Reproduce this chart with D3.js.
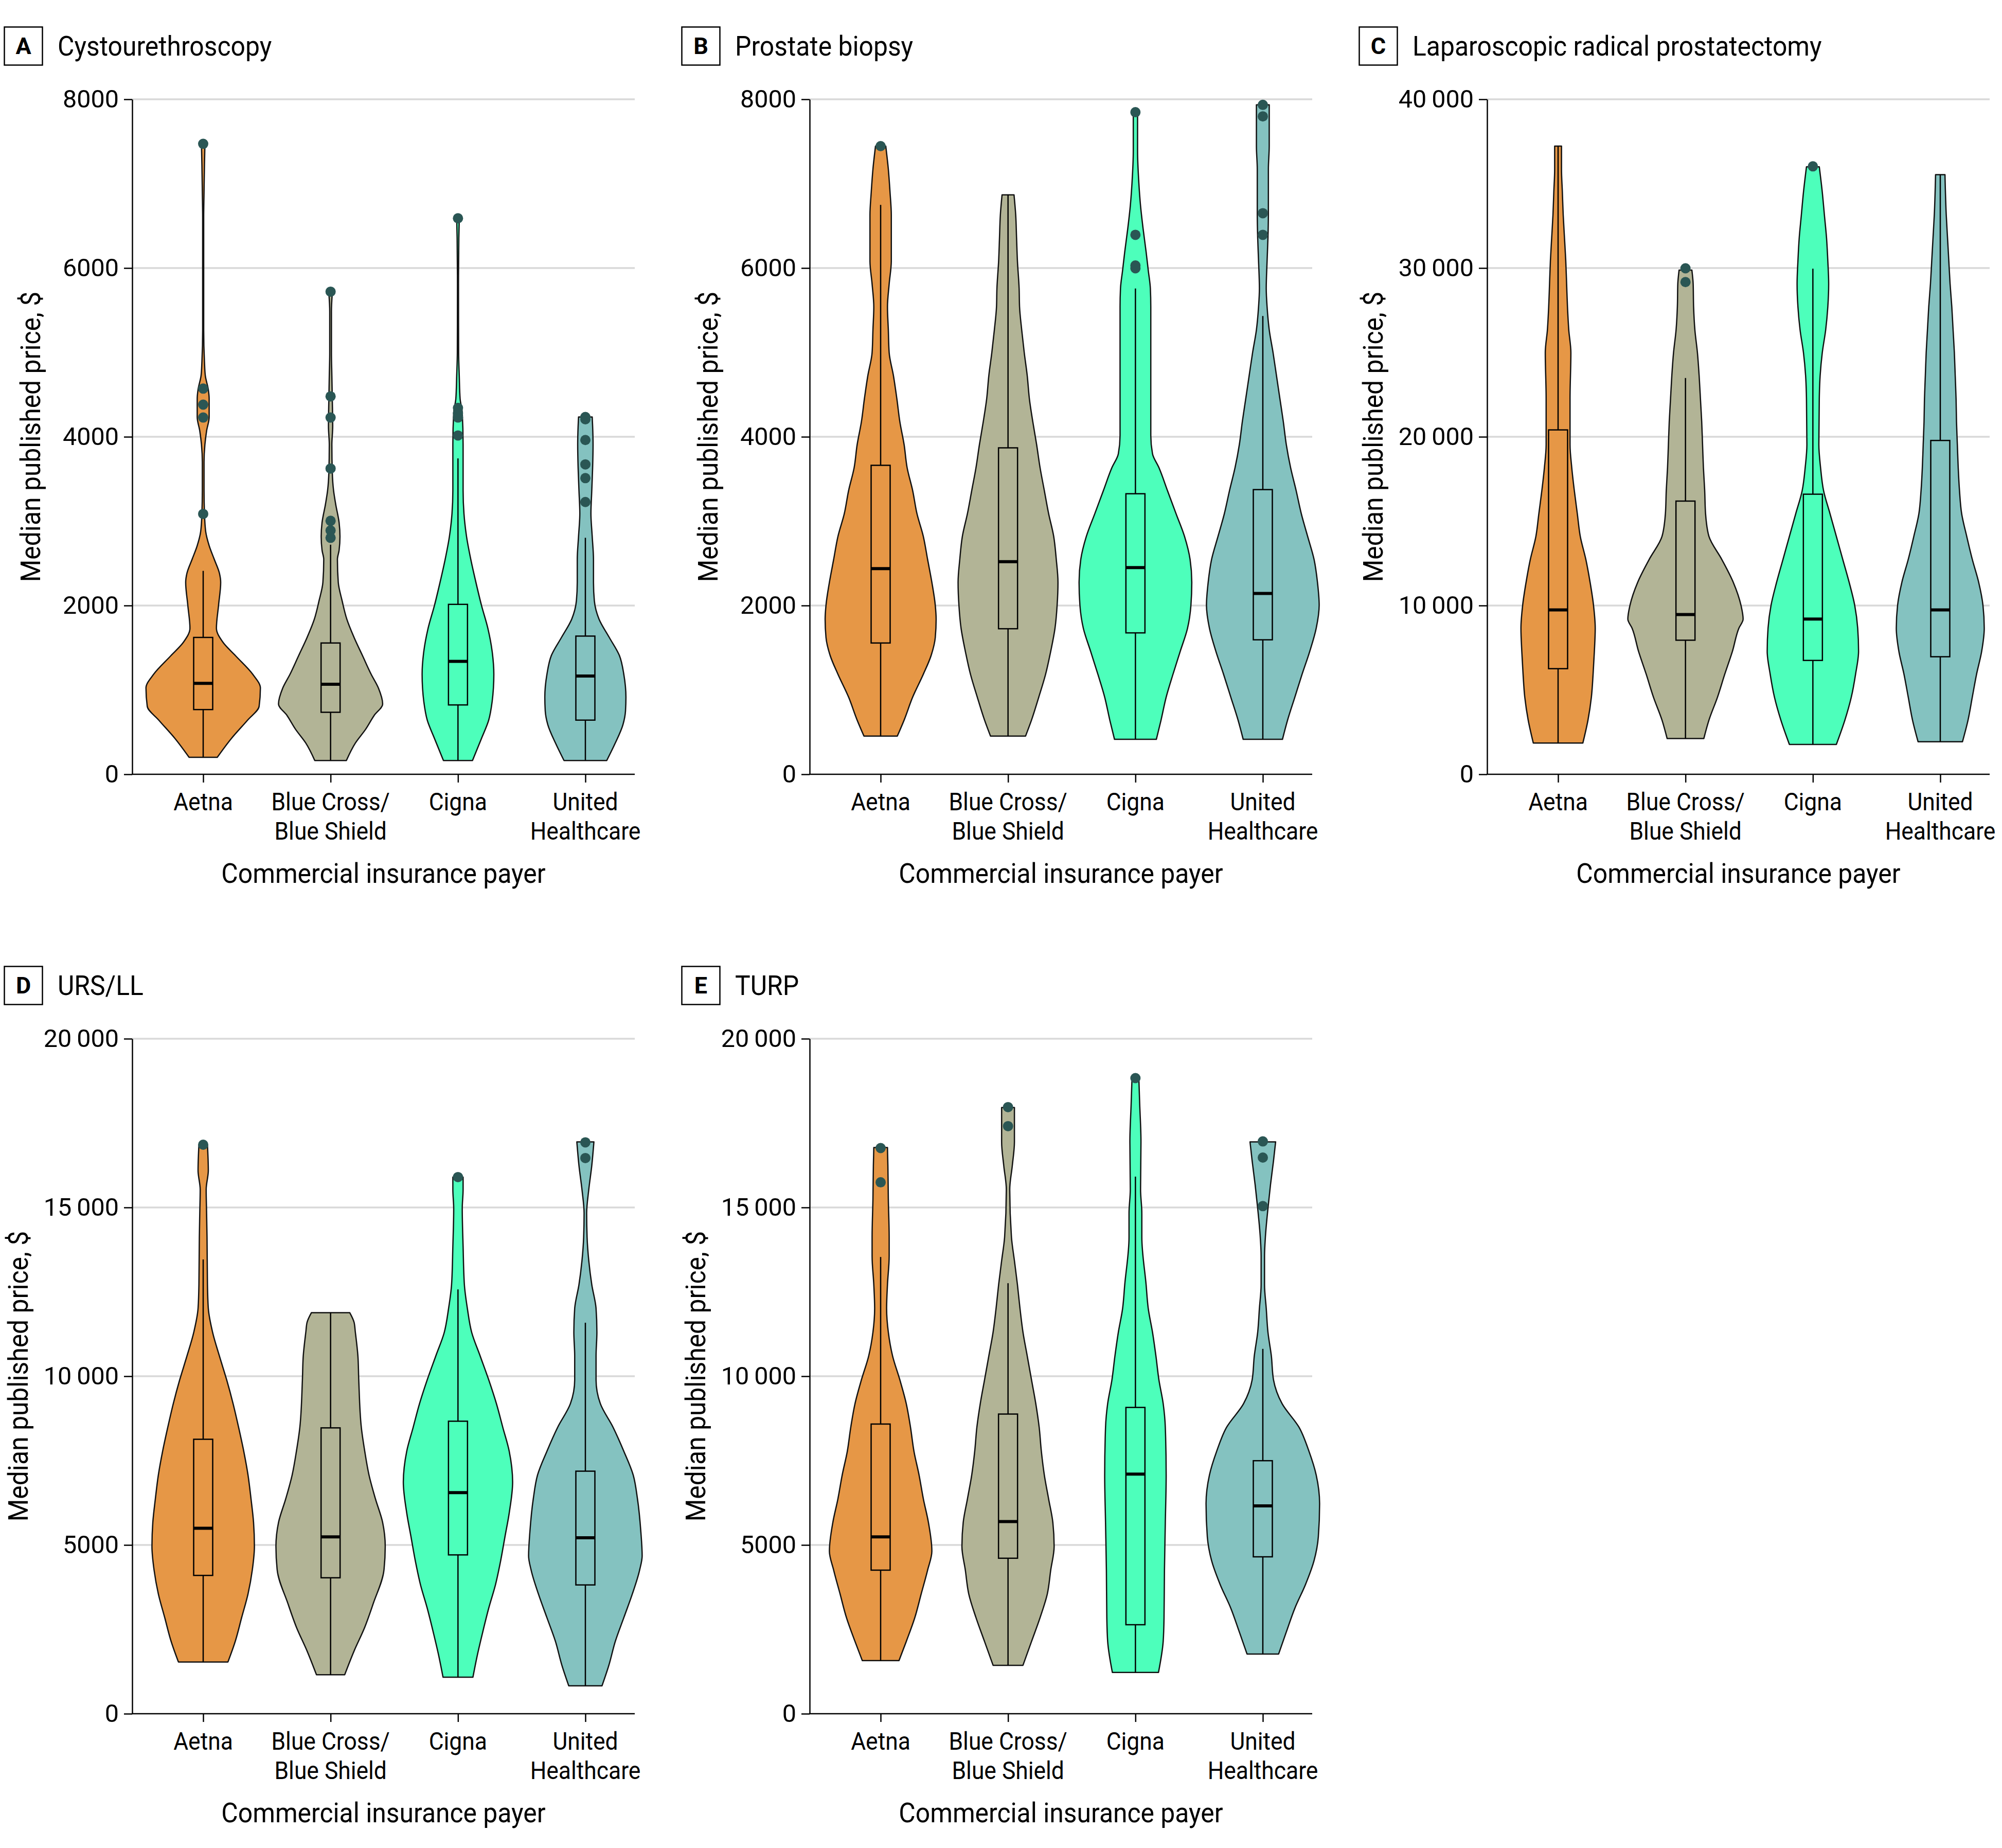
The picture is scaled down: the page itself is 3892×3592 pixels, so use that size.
<!DOCTYPE html>
<html><head><meta charset="utf-8">
<script src="https://cdn.jsdelivr.net/npm/d3@7/dist/d3.min.js"></script>
<style>body{margin:0;background:#fff}</style>
</head><body>
<svg id="chart" width="3892" height="3592"></svg>
<script>
// ---------------- DATA ----------------
const categories = ["Aetna", "Blue Cross/\nBlue Shield", "Cigna", "United\nHealthcare"];
const colors = ["#E69746", "#B2B496", "#4DFFBB", "#84C2C0"];
const outlierColor = "#2A5654";
const panelLetters = ["A", "B", "C", "D", "E"];
const panelTitles = ["Cystourethroscopy", "Prostate biopsy", "Laparoscopic radical prostatectomy", "URS/LL", "TURP"];
const yMax = [8000, 8000, 40000, 20000, 20000];
const yTicks = [
  [0, 2000, 4000, 6000, 8000],
  [0, 2000, 4000, 6000, 8000],
  [0, 10000, 20000, 30000, 40000],
  [0, 5000, 10000, 15000, 20000],
  [0, 5000, 10000, 15000, 20000]
];
const yTickLabels = [
  ["0", "2000", "4000", "6000", "8000"],
  ["0", "2000", "4000", "6000", "8000"],
  ["0", "10\u2009000", "20\u2009000", "30\u2009000", "40\u2009000"],
  ["0", "5000", "10\u2009000", "15\u2009000", "20\u2009000"],
  ["0", "5000", "10\u2009000", "15\u2009000", "20\u2009000"]
];
const yTitle = "Median published price, $";
const xTitle = "Commercial insurance payer";

// violin density profiles: [price, relative half-width]
const violinA_aetna = [[201,.33],[424,.66],[642,1.04],[805,1.31],[1023,1.34],[1186,1.16],[1404,.76],[1567,.46],[1730,.31],[2003,.36],[2275,.41],[2384,.38],[2547,.26],[2710,.14],[2873,.06],[3091,.03],[3363,.02],[3700,.02],[3907,.04],[4070,.08],[4234,.14],[4451,.14],[4560,.12],[4724,.05],[4887,.03],[5268,.012],[6600,.012],[6900,.02],[7227,.03],[7445,.04]];
const violinA_blue = [[163,.37],[370,.58],[533,.82],[697,1.02],[833,1.22],[1023,1.12],[1186,.95],[1404,.75],[1622,.55],[1839,.38],[2057,.27],[2275,.18],[2547,.16],[2656,.20],[2819,.22],[2982,.20],[3200,.12],[3363,.07],[3581,.04],[3907,.03],[4125,.05],[4451,.04],[4724,.03],[4996,.02],[5485,.02],[5703,.04]];
const violinA_cigna = [[163,.34],[424,.55],[642,.72],[860,.80],[1023,.83],[1186,.84],[1458,.80],[1730,.70],[2003,.55],[2275,.42],[2547,.30],[2819,.20],[3091,.14],[3363,.12],[3581,.12],[3907,.12],[4288,.10],[4451,.05],[4724,.03],[5000,.015],[5812,.012],[6356,.02],[6574,.03]];
const violinA_united = [[163,.50],[370,.70],[588,.88],[751,.94],[914,.95],[1186,.90],[1404,.80],[1622,.56],[1839,.32],[2057,.21],[2275,.19],[2547,.19],[2819,.16],[3091,.13],[3363,.15],[3635,.17],[3907,.18],[4125,.17],[4234,.16]];

const violinB_aetna = [[452,.39],[642,.55],[914,.75],[1186,1.00],[1404,1.18],[1622,1.28],[1839,1.30],[2003,1.28],[2275,1.20],[2547,1.10],[2819,1.00],[3091,.85],[3363,.75],[3635,.62],[3907,.55],[4179,.45],[4451,.38],[4724,.30],[4996,.20],[5268,.18],[5540,.16],[5812,.20],[6084,.25],[6356,.25],[6628,.25],[6900,.22],[7173,.18],[7445,.12]];
const violinB_blue = [[452,.41],[642,.55],[914,.72],[1186,.88],[1458,1.00],[1730,1.10],[2003,1.15],[2275,1.17],[2547,1.13],[2819,1.07],[3091,.95],[3363,.85],[3635,.75],[3907,.67],[4179,.58],[4451,.50],[4724,.45],[4996,.38],[5268,.32],[5540,.27],[5758,.26],[6084,.22],[6356,.20],[6628,.18],[6868,.14]];
const violinB_cigna = [[414,.49],[642,.60],[914,.72],[1186,.88],[1458,1.05],[1730,1.22],[2003,1.30],[2275,1.32],[2547,1.28],[2819,1.15],[3091,.95],[3363,.75],[3635,.55],[3799,.40],[4016,.36],[4451,.36],[4996,.36],[5540,.36],[5758,.35],[5975,.30],[6193,.25],[6465,.18],[6737,.12],[7009,.08],[7390,.05],[7847,.05]];
const violinB_united = [[414,.46],[642,.58],[914,.75],[1186,.92],[1458,1.10],[1730,1.25],[2003,1.32],[2275,1.28],[2547,1.20],[2819,1.05],[3091,.90],[3363,.78],[3635,.65],[3907,.55],[4179,.48],[4451,.40],[4724,.32],[4996,.24],[5268,.15],[5540,.10],[5758,.08],[6084,.10],[6356,.12],[6628,.13],[7173,.13],[7445,.15],[7934,.15]];

const violinC_aetna = [[1850,.58],[3211,.70],[4571,.78],[5932,.82],[7292,.85],[8653,.87],[10014,.83],[11374,.75],[12735,.65],[14095,.52],[15456,.45],[16816,.38],[18177,.32],[19537,.28],[22258,.28],[24980,.30],[26340,.25],[27701,.22],[29061,.20],[30422,.18],[31783,.15],[33143,.12],[34504,.10],[35864,.08],[37225,.08]];
const violinC_blue = [[2122,.43],[3211,.55],[4571,.75],[5932,.92],[7292,1.10],[8653,1.25],[9197,1.35],[10014,1.30],[11374,1.12],[12735,.85],[14095,.55],[15456,.47],[16816,.45],[18177,.42],[19537,.40],[20898,.38],[22258,.35],[23619,.32],[24980,.28],[26340,.22],[27701,.19],[29061,.18],[29877,.15]];
const violinC_cigna = [[1769,.55],[3211,.75],[4571,.90],[5932,1.00],[7292,1.07],[8653,1.05],[10014,.98],[11374,.85],[12735,.70],[14095,.55],[15456,.40],[16816,.25],[18177,.18],[19537,.14],[22258,.15],[23619,.17],[24980,.22],[26340,.30],[27701,.35],[29061,.37],[30422,.35],[31783,.32],[33143,.27],[34504,.22],[36000,.15]];
const violinC_united = [[1932,.52],[3211,.65],[4571,.75],[5932,.85],[7292,.97],[8653,1.03],[10014,1.00],[11374,.90],[12735,.75],[14095,.62],[15456,.50],[16816,.45],[18177,.42],[19537,.40],[20898,.38],[22258,.37],[23619,.35],[24980,.33],[26340,.30],[27701,.27],[29061,.23],[30422,.20],[31783,.17],[33143,.14],[35537,.11]];

const violinD_aetna = [[1533,.58],[2139,.75],[2844,.90],[3549,1.05],[4254,1.15],[4959,1.20],[5664,1.18],[6369,1.12],[7074,1.05],[7779,.95],[8484,.83],[9189,.70],[9894,.55],[10599,.38],[11304,.22],[12009,.12],[12714,.10],[14124,.09],[14829,.08],[15534,.07],[16098,.12],[16860,.10]];
const violinD_blue = [[1153,.33],[1857,.55],[2562,.80],[3267,1.00],[4254,1.25],[4959,1.28],[5664,1.22],[6369,1.05],[7074,.90],[7779,.80],[8484,.72],[9894,.66],[10599,.64],[11304,.58],[11600,.55],[11882,.45]];
const violinD_cigna = [[1082,.35],[1716,.45],[2421,.58],[3126,.72],[3831,.88],[4536,1.00],[5241,1.10],[5946,1.20],[6863,1.28],[7779,1.20],[8484,1.05],[9189,.90],[9894,.72],[10599,.52],[11304,.32],[12009,.22],[12714,.15],[13842,.12],[14970,.10],[15534,.12],[15901,.12]];
const violinD_united = [[828,.39],[1434,.55],[2139,.70],[2844,.90],[3549,1.10],[4254,1.27],[4677,1.33],[5382,1.30],[6369,1.22],[7074,1.12],[7779,.90],[8484,.65],[9189,.35],[9894,.25],[10599,.25],[11304,.27],[12009,.25],[12714,.15],[13419,.08],[14124,.04],[14829,.03],[15534,.08],[16239,.15],[16944,.20]];

const violinE_aetna = [[1575,.43],[2139,.60],[2844,.80],[3549,.95],[4254,1.10],[4818,1.20],[5664,1.12],[6369,1.00],[7074,.90],[7779,.78],[8484,.70],[9189,.60],[9894,.45],[10599,.28],[11304,.18],[12009,.14],[12714,.16],[13560,.20],[14124,.20],[15252,.18],[16239,.17],[16775,.16]];
const violinE_blue = [[1434,.35],[2139,.55],[2844,.75],[3549,.92],[4254,1.00],[4959,1.08],[5664,1.05],[6369,.95],[7074,.85],[7779,.78],[8484,.73],[9189,.65],[9894,.55],[10599,.45],[11304,.35],[12009,.28],[12714,.22],[13419,.15],[14124,.08],[15534,.04],[16239,.10],[16944,.15],[17960,.15]];
const violinE_cigna = [[1223,.54],[2139,.65],[2844,.67],[4254,.68],[5664,.70],[7074,.72],[8484,.70],[9189,.65],[9894,.55],[10599,.48],[11304,.40],[12009,.30],[12714,.25],[14124,.15],[14829,.15],[15534,.12],[16944,.13],[18072,.10],[18834,.08]];
const violinE_united = [[1770,.37],[2421,.55],[3126,.75],[3831,1.00],[4536,1.20],[5241,1.30],[6228,1.33],[7074,1.25],[7779,1.08],[8484,.85],[9189,.45],[9894,.25],[10599,.20],[11304,.12],[12009,.08],[12714,.04],[13560,.04],[14124,.06],[14970,.12],[15675,.18],[16380,.25],[16944,.30]];

// box plot stats per payer: [lower whisker, Q1, median, Q3, upper whisker]
const boxA = [[201,767,1078,1622,2411],[163,735,1067,1556,2721],[163,822,1339,2014,3744],[163,642,1165,1638,2803]];
const boxB = [[452,1556,2438,3662,6748],[452,1725,2520,3869,6868],[414,1676,2449,3325,5758],[414,1594,2144,3374,5431]];
const boxC = [[1850,6258,9741,20408,37225],[2122,7946,9469,16190,23483],[1769,6748,9197,16598,29959],[1932,6966,9741,19782,35537]];
const boxD = [[1533,4098,5495,8132,13460],[1153,4028,5241,8470,11882],[1082,4706,6551,8667,12573],[828,3816,5212,7187,11587]];
const boxE = [[1575,4254,5241,8583,13532],[1434,4607,5693,8879,12756],[1223,2637,7100,9075,15914],[1770,4649,6157,7497,10811]];

// outliers per payer
const outA = [[7472,4571,4381,4228,3086],[5720,4479,4228,3624,3004,2890,2803],[6590,4343,4280,4228,4016],[4234,4207,3962,3673,3510,3227]];
const outB = [[7445],[],[7847,6394,6030,5997],[7934,7798,6650,6394]];
const outC = [[],[29986,29170],[36026],[]];
const outD = [[16860],[],[15901],[16930,16465]];
const outE = [[16761,15746],[17974,17410],[18834],[16958,16479,15041]];

const violins = [
  [violinA_aetna, violinA_blue, violinA_cigna, violinA_united],
  [violinB_aetna, violinB_blue, violinB_cigna, violinB_united],
  [violinC_aetna, violinC_blue, violinC_cigna, violinC_united],
  [violinD_aetna, violinD_blue, violinD_cigna, violinD_united],
  [violinE_aetna, violinE_blue, violinE_cigna, violinE_united]
];
const boxes = [boxA, boxB, boxC, boxD, boxE];
const outliers = [outA, outB, outC, outD, outE];

// ---------------- LAYOUT ----------------
const panelOrigin = [[0, 0], [1317, 0], [2634, 0], [0, 1826], [1317, 1826]];
const plot = {left: 257, right: 1234, top: 193, bottom: 1505};
const pointRange = [395, 1138];
const widthScale = d3.scaleLinear().domain([0, 1]).range([0, 83]);
const boxHalf = 18.5;
const FONT = "Roboto, 'Liberation Sans', Arial, sans-serif";

const svg = d3.select("#chart");
svg.append("rect").attr("width", 3892).attr("height", 3592).attr("fill", "#fff");

function condenseBy(k) {
  return sel => sel.each(function () {
    const L = this.getComputedTextLength();
    d3.select(this).attr("textLength", L * k).attr("lengthAdjust", "spacingAndGlyphs");
  });
}
const condense = condenseBy(0.94);
const condenseTick = condenseBy(0.925);

const x = d3.scalePoint().domain(categories).range(pointRange);

panelLetters.forEach((letter, i) => {
  const g = svg.append("g").attr("transform", `translate(${panelOrigin[i][0]},${panelOrigin[i][1]})`);
  const y = d3.scaleLinear().domain([0, yMax[i]]).range([plot.bottom, plot.top]);

  // header
  g.append("rect").attr("x", 8.5).attr("y", 52.5).attr("width", 74).attr("height", 74)
    .attr("fill", "none").attr("stroke", "#000").attr("stroke-width", 2.5);
  g.append("text").attr("x", 45.5).attr("y", 89.5).attr("text-anchor", "middle")
    .attr("dominant-baseline", "central").attr("font-family", FONT).attr("font-weight", 700)
    .attr("font-size", 45).text(letter);
  g.append("text").attr("x", 112).attr("y", 108).attr("font-family", FONT)
    .attr("font-size", 53).attr("fill", "#000").text(panelTitles[i]).call(condense);

  // gridlines
  g.append("g").selectAll("line").data(yTicks[i].filter(d => d > 0)).join("line")
    .attr("x1", plot.left).attr("x2", plot.right)
    .attr("y1", d => y(d)).attr("y2", d => y(d))
    .attr("stroke", "#d9d9d9").attr("stroke-width", 3.5);

  // violins
  const vg = g.append("g");
  categories.forEach((cat, j) => {
    const cx = x(cat);
    const area = d3.area().curve(d3.curveMonotoneY)
      .y(d => y(d[0]))
      .x0(d => cx - widthScale(d[1]))
      .x1(d => cx + widthScale(d[1]));
    vg.append("path").attr("d", area(violins[i][j]))
      .attr("fill", colors[j]).attr("stroke", "#111").attr("stroke-width", 2.5)
      .attr("stroke-linejoin", "round");

    const [lo, q1, med, q3, hi] = boxes[i][j];
    vg.append("line").attr("x1", cx).attr("x2", cx).attr("y1", y(lo)).attr("y2", y(q1))
      .attr("stroke", "#000").attr("stroke-width", 2.5);
    vg.append("line").attr("x1", cx).attr("x2", cx).attr("y1", y(q3)).attr("y2", y(hi))
      .attr("stroke", "#000").attr("stroke-width", 2.5);
    vg.append("rect").attr("x", cx - boxHalf).attr("width", boxHalf * 2)
      .attr("y", y(q3)).attr("height", y(q1) - y(q3))
      .attr("fill", colors[j]).attr("stroke", "#000").attr("stroke-width", 2.5);
    vg.append("line").attr("x1", cx - boxHalf).attr("x2", cx + boxHalf)
      .attr("y1", y(med)).attr("y2", y(med)).attr("stroke", "#000").attr("stroke-width", 6);

    vg.append("g").selectAll("circle").data(outliers[i][j]).join("circle")
      .attr("cx", cx).attr("cy", d => y(d)).attr("r", 10).attr("fill", outlierColor);
  });

  // y axis
  const yAxis = d3.axisLeft(y).tickValues(yTicks[i])
    .tickFormat((d, k) => yTickLabels[i][k]).tickSize(16).tickSizeOuter(0).tickPadding(10);
  const ya = g.append("g").attr("transform", `translate(${plot.left},0)`).call(yAxis);
  ya.select(".domain").attr("stroke", "#000").attr("stroke-width", 2.5);
  ya.selectAll(".tick line").attr("stroke", "#000").attr("stroke-width", 2.5);
  ya.selectAll(".tick text").attr("font-family", FONT).attr("font-size", 48.5).attr("fill", "#000");

  // x axis
  g.append("line").attr("x1", plot.left - 1).attr("x2", plot.right)
    .attr("y1", plot.bottom).attr("y2", plot.bottom).attr("stroke", "#000").attr("stroke-width", 2.5);
  const xa = g.append("g").attr("transform", `translate(0,${plot.bottom})`)
    .call(d3.axisBottom(x).tickSize(16).tickFormat(""));
  xa.select(".domain").remove();
  xa.selectAll(".tick line").attr("stroke", "#000").attr("stroke-width", 2.5);
  categories.forEach(cat => {
    cat.split("\n").forEach((line, k) => {
      g.append("text").attr("x", x(cat)).attr("y", plot.bottom + 70 + k * 57)
        .attr("text-anchor", "middle").attr("font-family", FONT).attr("font-size", 48)
        .attr("fill", "#000").text(line).call(condenseTick);
    });
  });
  g.append("text").attr("x", (plot.left + plot.right) / 2).attr("y", plot.bottom + 211)
    .attr("text-anchor", "middle").attr("font-family", FONT).attr("font-size", 53)
    .attr("fill", "#000").text(xTitle).call(condense);

  // y title
  const wide = d3.max(yTickLabels[i], s => s.length) >= 5;
  const tx = wide ? 54 : 78;
  const ty = (plot.top + plot.bottom) / 2;
  g.append("text").attr("transform", `translate(${tx},${ty}) rotate(-90)`)
    .attr("text-anchor", "middle").attr("font-family", FONT).attr("font-size", 53)
    .attr("fill", "#000").text(yTitle).call(condense);
});
</script>
</body></html>
